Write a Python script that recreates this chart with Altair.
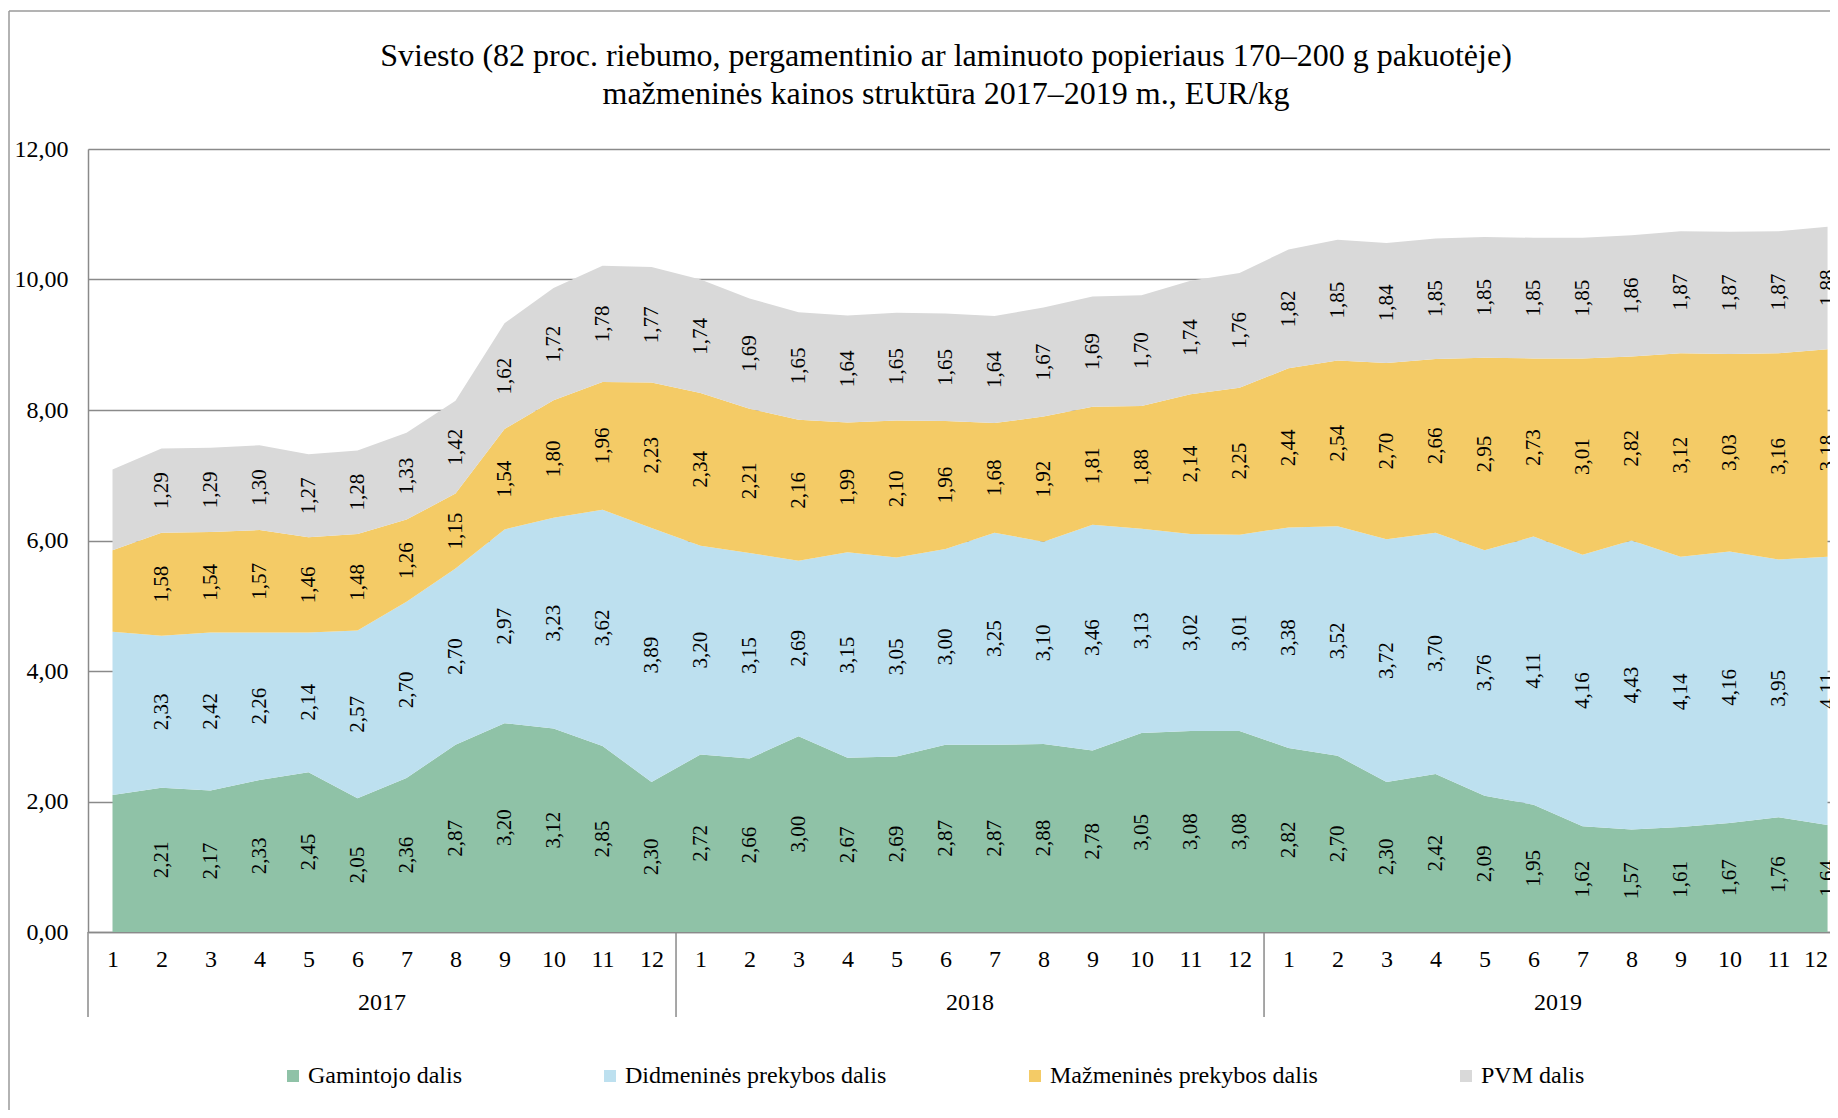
import json
import altair as alt
import pandas as pd

# ---- data -----------------------------------------------------------------
years = ["2017", "2018", "2019"]
months = ["1", "2", "3", "4", "5", "6", "7", "8", "9", "10", "11", "12"]

series_names = ["Gamintojo dalis", "Didmeninės prekybos dalis",
                "Mažmeninės prekybos dalis", "PVM dalis"]
series_colors = ["#8FC2A7", "#BDE0EF", "#F4CB66", "#D9D9D9"]

gamintojo = [2.10, 2.21, 2.17, 2.33, 2.45, 2.05, 2.36, 2.87, 3.20, 3.12, 2.85, 2.30,
             2.72, 2.66, 3.00, 2.67, 2.69, 2.87, 2.87, 2.88, 2.78, 3.05, 3.08, 3.08,
             2.82, 2.70, 2.30, 2.42, 2.09, 1.95, 1.62, 1.57, 1.61, 1.67, 1.76, 1.64]
didmenines = [2.50, 2.33, 2.42, 2.26, 2.14, 2.57, 2.70, 2.70, 2.97, 3.23, 3.62, 3.89,
              3.20, 3.15, 2.69, 3.15, 3.05, 3.00, 3.25, 3.10, 3.46, 3.13, 3.02, 3.01,
              3.38, 3.52, 3.72, 3.70, 3.76, 4.11, 4.16, 4.43, 4.14, 4.16, 3.95, 4.11]
mazmenines = [1.25, 1.58, 1.54, 1.57, 1.46, 1.48, 1.26, 1.15, 1.54, 1.80, 1.96, 2.23,
              2.34, 2.21, 2.16, 1.99, 2.10, 1.96, 1.68, 1.92, 1.81, 1.88, 2.14, 2.25,
              2.44, 2.54, 2.70, 2.66, 2.95, 2.73, 3.01, 2.82, 3.12, 3.03, 3.16, 3.18]
pvm = [1.24, 1.29, 1.29, 1.30, 1.27, 1.28, 1.33, 1.42, 1.62, 1.72, 1.78, 1.77,
       1.74, 1.69, 1.65, 1.64, 1.65, 1.65, 1.64, 1.67, 1.69, 1.70, 1.74, 1.76,
       1.82, 1.85, 1.84, 1.85, 1.85, 1.85, 1.85, 1.86, 1.87, 1.87, 1.87, 1.88]

y_ticks = [0, 2, 4, 6, 8, 10, 12]

title_lines = ["Sviesto (82 proc. riebumo, pergamentinio ar laminuoto popieriaus 170–200 g pakuotėje)",
               "mažmeninės kainos struktūra 2017–2019 m., EUR/kg"]

# ---- tables -----------------------------------------------------------------
month_labels = [m for _ in years for m in months]
series_values = [gamintojo, didmenines, mazmenines, pvm]
rows = []
for s_i, (name, vals) in enumerate(zip(series_names, series_values)):
    for idx, v in enumerate(vals):
        rows.append({"idx": idx, "serie": name, "ord": s_i, "v": v})
df = pd.DataFrame(rows)

n = len(month_labels)
year_df = pd.DataFrame({"year": years,
                        "xc": [i * 12 + 5.5 for i in range(len(years))]})
sep_df = pd.DataFrame({"xs": [i * 12 - 0.5 for i in range(len(years))]})
one = pd.DataFrame({"k": [0]})

# ---- layout ---------------------------------------------------------------
W, H = 1742, 783
FONT = "Liberation Serif"
GRID = "#8A8A8A"

x_scale = alt.Scale(domain=[-0.5, 35.05], nice=False, zero=False)
y_scale = alt.Scale(domain=[0, 12], nice=False)

num_fmt = "replace(format(datum.value, '.2f'), '.', ',')"

x_enc = alt.X("idx:Q", scale=x_scale,
              axis=alt.Axis(values=list(range(n)),
                            labelExpr=f"{json.dumps(month_labels)}[datum.value]",
                            title=None, grid=False, ticks=False, domain=True,
                            domainColor=GRID, domainWidth=1.5,
                            labelFont=FONT, labelFontSize=24, labelColor="black",
                            labelPadding=15, labelFlush=10, labelOverlap=False))
y_enc = alt.Y("v:Q", stack="zero", scale=y_scale,
              axis=alt.Axis(values=y_ticks, labelExpr=num_fmt, title=None,
                            grid=True, gridColor=GRID, gridWidth=1.5,
                            ticks=False, domain=True, domainColor=GRID,
                            domainWidth=1.5, labelFont=FONT, labelFontSize=24,
                            labelColor="black", labelPadding=20))

color_enc = alt.Color("serie:N",
                      scale=alt.Scale(domain=series_names, range=series_colors),
                      legend=alt.Legend(title=None, orient="none",
                                        legendX=193, legendY=915,
                                        direction="horizontal", columns=4,
                                        symbolType="square", symbolSize=144,
                                        symbolStrokeWidth=0, labelFont=FONT,
                                        labelFontSize=24, labelColor="black",
                                        labelLimit=600, labelOffset=3,
                                        columnPadding=136))

areas = alt.Chart(df).mark_area(opacity=1, strokeWidth=0).encode(
    x=x_enc, y=y_enc, color=color_enc,
    order=alt.Order("ord:Q", sort="ascending"))

labels = alt.Chart(df).transform_stack(
    stack="v", groupby=["idx"], as_=["y0", "y1"],
    sort=[alt.SortField("ord", order="ascending")]
).transform_calculate(
    ymid="(datum.y0 + datum.y1) / 2",
    txt="replace(format(datum.v, '.2f'), '.', ',')"
).transform_filter("datum.idx > 0").mark_text(
    angle=270, font=FONT, fontSize=21, color="black",
    align="center", baseline="middle"
).encode(
    x=alt.X("idx:Q", scale=x_scale),
    y=alt.Y("ymid:Q", scale=y_scale),
    text="txt:N")

year_text = alt.Chart(year_df).mark_text(
    font=FONT, fontSize=24, color="black", baseline="middle", align="center"
).encode(x=alt.X("xc:Q", scale=x_scale), y=alt.value(854), text="year:N")

seps = alt.Chart(sep_df).mark_rule(color=GRID, strokeWidth=1.5).encode(
    x=alt.X("xs:Q", scale=x_scale), y=alt.value(H), y2=alt.value(868))

frame_v = alt.Chart(one).mark_rule(color="#9A9A9A", strokeWidth=1.5).encode(
    x=alt.value(-79), y=alt.value(-138), y2=alt.value(1100))
frame_h = alt.Chart(one).mark_rule(color="#9A9A9A", strokeWidth=1.5).encode(
    x=alt.value(-79), x2=alt.value(W + 20), y=alt.value(-138))

title_1 = alt.Chart(one).mark_text(
    text=title_lines[0], font=FONT, fontSize=32, color="black",
    align="center", baseline="middle"
).encode(x=alt.value(858), y=alt.value(-93))
title_2 = alt.Chart(one).mark_text(
    text=title_lines[1], font=FONT, fontSize=32, color="black",
    align="center", baseline="middle"
).encode(x=alt.value(858), y=alt.value(-55))

chart = alt.layer(areas, labels, year_text, seps, frame_v, frame_h,
                  title_1, title_2).properties(
    width=W, height=H,
    autosize=alt.AutoSizeParams(type="none"),
    padding={"left": 80, "top": 141, "right": 0, "bottom": 178},
).configure_view(stroke=None).configure(background="white")

chart.save("out.html", embed_options={"renderer": "svg", "actions": False})
